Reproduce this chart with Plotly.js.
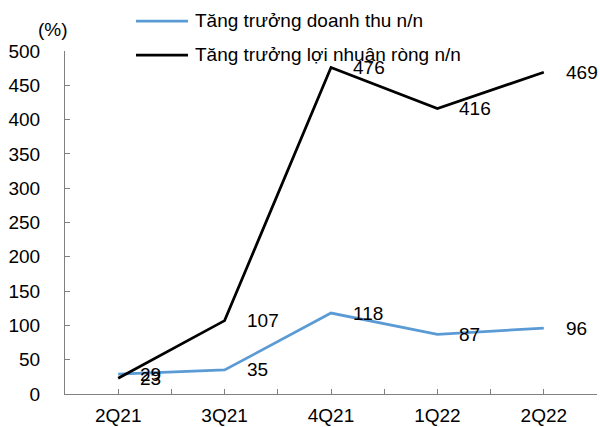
<!DOCTYPE html>
<html>
<head>
<meta charset="utf-8">
<script src="https://cdn.plot.ly/plotly-3.0.1.min.js"></script>
<style>html,body{margin:0;padding:0;background:#fff}#chart{width:600px;height:427px}</style>
</head>
<body>
<div id="chart"></div>
<script>
const categories = ["2Q21", "3Q21", "4Q21", "1Q22", "2Q22"];
const revenueGrowth = [29, 35, 118, 87, 96];
const profitGrowth = [23, 107, 476, 416, 469];
const seriesNames = ["Tăng trưởng doanh thu n/n", "Tăng trưởng lợi nhuận ròng n/n"];
const seriesColors = ["#5b9bd5", "#000000"];

const xPos = categories.map((c, i) => i);
const FONT = "Liberation Sans, Arial, sans-serif";
const FS = 19;

// plot-area geometry (px) used to place the hand-drawn legend
const W = 600, H = 427, M = {l: 65, r: 3, t: 51, b: 33};
const pw = W - M.l - M.r, ph = H - M.t - M.b;
const px2x = p => (p - M.l) / pw;
const py2y = p => (H - M.b - p) / ph;

// ticks at category centres and at boundaries
const tickvals = [], ticktext = [];
for (let i = 0; i < categories.length; i++) {
  tickvals.push(i - 0.5); ticktext.push("");
  tickvals.push(i); ticktext.push(categories[i]);
}
tickvals.push(categories.length - 0.5); ticktext.push("");

const seriesData = [revenueGrowth, profitGrowth];
const traces = seriesData.map((s, k) => ({
  x: xPos, y: s, name: seriesNames[k], type: "scatter", mode: "lines",
  line: {color: seriesColors[k], width: 2.75}, hoverinfo: "skip", showlegend: false
}));

const annotations = [];
seriesData.forEach(series => {
  series.forEach((v, i) => {
    annotations.push({x: xPos[i], y: v, xref: "x", yref: "y", text: String(v),
      showarrow: false, xanchor: "left", yanchor: "middle", xshift: 20,
      font: {family: FONT, size: FS, color: "#000"}});
  });
});
annotations.push({x: px2x(53), y: py2y(30), xref: "paper", yref: "paper", text: "(%)",
  showarrow: false, xanchor: "center", yanchor: "middle",
  font: {family: FONT, size: FS, color: "#000"}});

// legend (keys as shapes, labels as annotations)
const shapes = [];
seriesNames.forEach((name, k) => {
  const py = 21 + 34 * k;
  shapes.push({type: "line", xref: "paper", yref: "paper",
    x0: px2x(136), x1: px2x(188), y0: py2y(py), y1: py2y(py),
    line: {color: seriesColors[k], width: 2.75}});
  annotations.push({x: px2x(193), y: py2y(py), xref: "paper", yref: "paper", text: name,
    showarrow: false, xanchor: "left", yanchor: "middle",
    font: {family: FONT, size: FS, color: "#000"}});
});

const axisCommon = {ticks: "inside", ticklen: 5, tickcolor: "#808080", showgrid: false, zeroline: false,
  showline: true, linecolor: "#808080", linewidth: 1, fixedrange: true,
  tickfont: {family: FONT, size: FS, color: "#000"}};

const layout = {
  width: W, height: H,
  margin: M,
  paper_bgcolor: "#fff", plot_bgcolor: "#fff",
  font: {family: FONT, size: FS, color: "#000"},
  showlegend: false,
  xaxis: Object.assign({range: [-0.5, categories.length - 0.5], tickmode: "array",
    tickvals: tickvals, ticktext: ticktext, ticklabelstandoff: 4}, axisCommon),
  yaxis: Object.assign({range: [0, 500], dtick: 50, tick0: 0, ticklabelstandoff: 20}, axisCommon),
  shapes: shapes,
  annotations: annotations
};

Plotly.newPlot("chart", traces, layout, {displayModeBar: false, staticPlot: true});
</script>
</body>
</html>
